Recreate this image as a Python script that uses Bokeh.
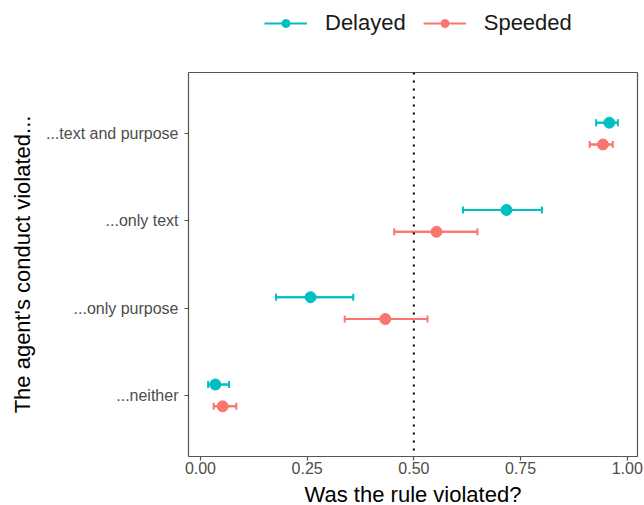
from bokeh.plotting import figure
from bokeh.layouts import column
from bokeh.models import (ColumnDataSource, FactorRange, Range1d, Whisker, TeeHead, Span,
                          Legend, LegendItem, FixedTicker, Label)
from bokeh.transform import dodge
from bokeh.embed import file_html
from bokeh.resources import INLINE

categories = ["...text and purpose", "...only text", "...only purpose", "...neither"]
delayed_mean = [0.958, 0.717, 0.258, 0.035]
delayed_lo = [0.927, 0.615, 0.177, 0.018]
delayed_hi = [0.978, 0.800, 0.358, 0.067]
speeded_mean = [0.943, 0.553, 0.433, 0.052]
speeded_lo = [0.912, 0.454, 0.338, 0.031]
speeded_hi = [0.966, 0.649, 0.532, 0.084]
series_names = ["Delayed", "Speeded"]
x_ticks = [0.0, 0.25, 0.5, 0.75, 1.0]
x_tick_labels = ["0.00", "0.25", "0.50", "0.75", "1.00"]
x_title = "Was the rule violated?"
y_title = "The agent's conduct violated..."

FONT = "Liberation Sans"
TEAL = "#00BFC4"
SALMON = "#F8766D"

# ---- main plot ----
y_range = FactorRange(factors=categories[::-1], range_padding=0.2, range_padding_units="absolute")
p = figure(width=644, height=411, y_range=y_range, x_range=Range1d(-0.028, 1.024),
           output_backend="svg", toolbar_location=None,
           min_border_left=188, min_border_right=7, min_border_top=1, min_border_bottom=26)

p.xgrid.visible = False
p.ygrid.visible = False
p.outline_line_color = "#555555"
p.outline_line_width = 1.2
p.background_fill_color = "white"
p.border_fill_color = "white"

p.add_layout(Span(location=0.5, dimension="height", line_color="black",
                  line_width=2, line_dash="2 6"))

# ---- legend strip ----
lf = figure(width=644, height=71, x_range=Range1d(0, 1),
            y_range=FactorRange(factors=categories[::-1]),
            output_backend="svg", toolbar_location=None, min_border=0)
lf.axis.visible = False
lf.grid.visible = False
lf.outline_line_color = None
lf.border_fill_color = "white"

items = []
for name, mean, lo, hi, color, off in [
    (series_names[0], delayed_mean, delayed_lo, delayed_hi, TEAL, 0.125),
    (series_names[1], speeded_mean, speeded_lo, speeded_hi, SALMON, -0.125),
]:
    src = ColumnDataSource(dict(cat=categories, mean=mean, lo=lo, hi=hi))
    yd = dodge("cat", off, range=p.y_range)
    p.segment(x0="lo", x1="hi", y0=yd, y1=yd, source=src, line_color=color, line_width=2)
    p.add_layout(Whisker(base=yd, lower="lo", upper="hi", dimension="width", source=src,
                         line_color=color, line_width=2,
                         lower_head=TeeHead(size=7, line_color=color, line_width=2),
                         upper_head=TeeHead(size=7, line_color=color, line_width=2)))
    p.scatter(x="mean", y=yd, source=src, size=11, fill_color=color, line_color=color)
    # legend proxies in the legend strip (hidden renderers, legend glyphs still drawn)
    lseg = lf.segment(x0="lo", x1="hi", y0="cat", y1="cat", source=src,
                      line_color=color, line_width=2, visible=False)
    lpts = lf.scatter(x="mean", y="cat", source=src, size=11,
                      fill_color=color, line_color=color, visible=False)
    items.append(LegendItem(label=name, renderers=[lseg, lpts]))

legend = Legend(items=items, orientation="horizontal", location=(76, 35),
                border_line_color=None, background_fill_alpha=0, margin=0, padding=5,
                glyph_width=43, glyph_height=20, label_standoff=18, spacing=17,
                label_text_font=FONT, label_text_font_size="22px", label_text_color="#1a1a1a")
lf.add_layout(legend, "center")

xa = p.xaxis[0]
xa.ticker = FixedTicker(ticks=x_ticks)
xa.major_label_overrides = {t: l for t, l in zip(x_ticks, x_tick_labels)}
ya = p.yaxis[0]
for ax in (xa, ya):
    ax.axis_line_color = None
    ax.minor_tick_line_color = None
    ax.major_tick_in = 0
    ax.major_tick_out = 4
    ax.major_tick_line_color = "#555555"
    ax.major_tick_line_width = 1.2
    ax.major_label_text_font = FONT
    ax.major_label_text_font_size = "16px"
    ax.major_label_text_color = "#4D4D4D"
    ax.axis_label_text_font = FONT
    ax.axis_label_text_font_size = "22px"
    ax.axis_label_text_font_style = "normal"
    ax.axis_label_text_color = "black"

xa.major_label_standoff = 1
ya.axis_label = y_title
ya.major_label_standoff = 6
ya.axis_label_standoff = 8

# ---- x-axis title strip ----
bf = figure(width=644, height=23, x_range=Range1d(0, 1), y_range=Range1d(0, 1),
            output_backend="svg", toolbar_location=None, min_border=0)
bf.axis.visible = False
bf.grid.visible = False
bf.outline_line_color = None
bf.border_fill_color = "white"
bf.add_layout(Label(x=0.5, y=0.5, text=x_title, text_align="center", text_baseline="middle",
                    text_font=FONT, text_font_size="22px", text_color="black"))

layout = column(lf, p, bf, spacing=0)
open("out.html", "w").write(file_html(layout, INLINE))
